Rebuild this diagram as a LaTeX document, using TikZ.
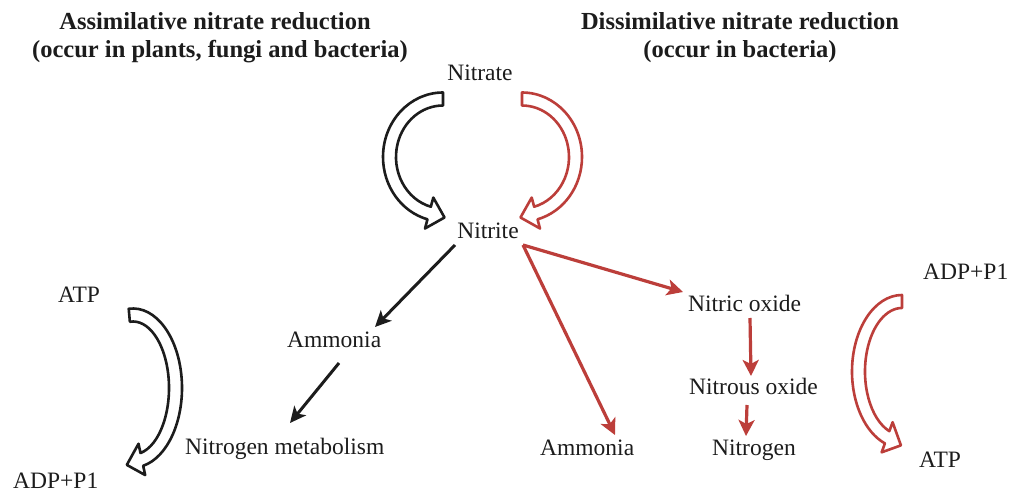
\documentclass[tikz,border=0pt]{standalone}
\usepackage{fontspec}
\setmainfont{Liberation Serif}
\usetikzlibrary{calc,arrows.meta}
\definecolor{rd}{RGB}{188,62,58}
\definecolor{ink}{RGB}{28,28,28}
\def\shaftw{13}\def\headw{32}\def\headl{16}
\newcommand{\hollowarc}[8]{%
 \pgfmathsetmacro{\hAo}{#4+\shaftw/2}\pgfmathsetmacro{\hBo}{#5+\shaftw/2}%
 \pgfmathsetmacro{\hAi}{#4-\shaftw/2}\pgfmathsetmacro{\hBi}{#5-\shaftw/2}%
 \pgfmathsetmacro{\hAw}{#4+\headw/2}\pgfmathsetmacro{\hBw}{#5+\headw/2}%
 \pgfmathsetmacro{\hAv}{#4-\headw/2}\pgfmathsetmacro{\hBv}{#5-\headw/2}%
 \pgfmathsetmacro{\dang}{atan2((#8)*(#5)*cos(#7), (-1)*(#8)*(#4)*sin(#7))}%
 \draw[#1] ($(#2,#3)+({#6}:{\hAo} and {\hBo})$) arc[start angle=#6, end angle=#7, x radius=\hAo, y radius=\hBo]
 -- ($(#2,#3)+({#7}:{\hAw} and {\hBw})$)
 -- ($(#2,#3)+({#7}:{#4} and {#5})+({\dang}:\headl)$)
 -- ($(#2,#3)+({#7}:{\hAv} and {\hBv})$)
 -- ($(#2,#3)+({#7}:{\hAi} and {\hBi})$)
 arc[start angle=#7, end angle=#6, x radius=\hAi, y radius=\hBi] -- cycle;}
\begin{document}
\begin{tikzpicture}[x=1pt,y=-1pt,
  lbl/.style={inner sep=0pt, text=ink, font=\fontsize{23.5}{28}\selectfont},
  head/.style={inner sep=0pt, text=ink, font=\fontsize{24.5}{29}\selectfont\bfseries},
  hollowblk/.style={draw=ink, line width=2.6pt, fill=white, line join=round},
  hollowred/.style={draw=rd, line width=2.6pt, fill=white, line join=round},
  blkarrow/.style={draw=ink, line width=3pt, -{Stealth[length=16pt,width=15pt,inset=4pt]}},
  redarrow/.style={draw=rd, line width=3.2pt, -{Stealth[length=16pt,width=16pt,inset=4pt]}}]
\useasboundingbox[fill=white] (0,0) rectangle (1009,497);
% headings
\node[head, anchor=base] (h1) at (215,30) {Assimilative nitrate reduction};
\node[head, anchor=base] (h2) at (220,58) {(occur in plants, fungi and bacteria)};
\node[head, anchor=base] (h3) at (740,30) {Dissimilative nitrate reduction};
\node[head, anchor=base] (h4) at (740,58) {(occur in bacteria)};
% labels
\node[lbl, anchor=base] (nitrate) at (480,81) {Nitrate};
\node[lbl, anchor=base] (nitrite) at (488,238) {Nitrite};
\node[lbl, anchor=base west] (atpL) at (58,302) {ATP};
\node[lbl, anchor=base west] (adpL) at (13,488) {ADP+P1};
\node[lbl, anchor=base west] (ammL) at (287,347) {Ammonia};
\node[lbl, anchor=base west] (nitmet) at (185,454) {Nitrogen metabolism};
\node[lbl, anchor=base west] (ammR) at (540,455) {Ammonia};
\node[lbl, anchor=base west] (no) at (688,311) {Nitric oxide};
\node[lbl, anchor=base west] (n2o) at (689,394) {Nitrous oxide};
\node[lbl, anchor=base west] (n2) at (712,455) {Nitrogen};
\node[lbl, anchor=base west] (adpR) at (923,279) {ADP+P1};
\node[lbl, anchor=base west] (atpR) at (919,467) {ATP};
% hollow curved arrows
\hollowarc{hollowblk}{443}{157}{53.5}{58}{270}{105}{-1}
\hollowarc{hollowred}{522}{157}{53.5}{58}{-90}{75}{1}
\hollowarc{hollowblk}{133}{388}{42.5}{73}{-95}{78}{1}
\hollowarc{hollowred}{902}{371.5}{43.5}{70}{270}{110}{-1}
% straight arrows
\draw[blkarrow] ($(nitrite.base)+(-33,7)$) -- ($(ammL.base west)+(88,-20)$);
\draw[blkarrow] ($(ammL.base west)+(52,16)$) -- ($(nitmet.base west)+(105,-31)$);
\draw[redarrow] ($(nitrite.base)+(35,7)$) -- ($(no.base west)+(-5,-19)$);
\draw[redarrow] ($(nitrite.base)+(35,7)$) -- ($(ammR.base west)+(75,-20)$);
\draw[redarrow] ($(no.base west)+(62,7)$) -- ($(n2o.base west)+(62,-18)$);
\draw[redarrow] ($(n2o.base west)+(58,11)$) -- ($(n2.base west)+(34,-19)$);
\end{tikzpicture}
\end{document}
